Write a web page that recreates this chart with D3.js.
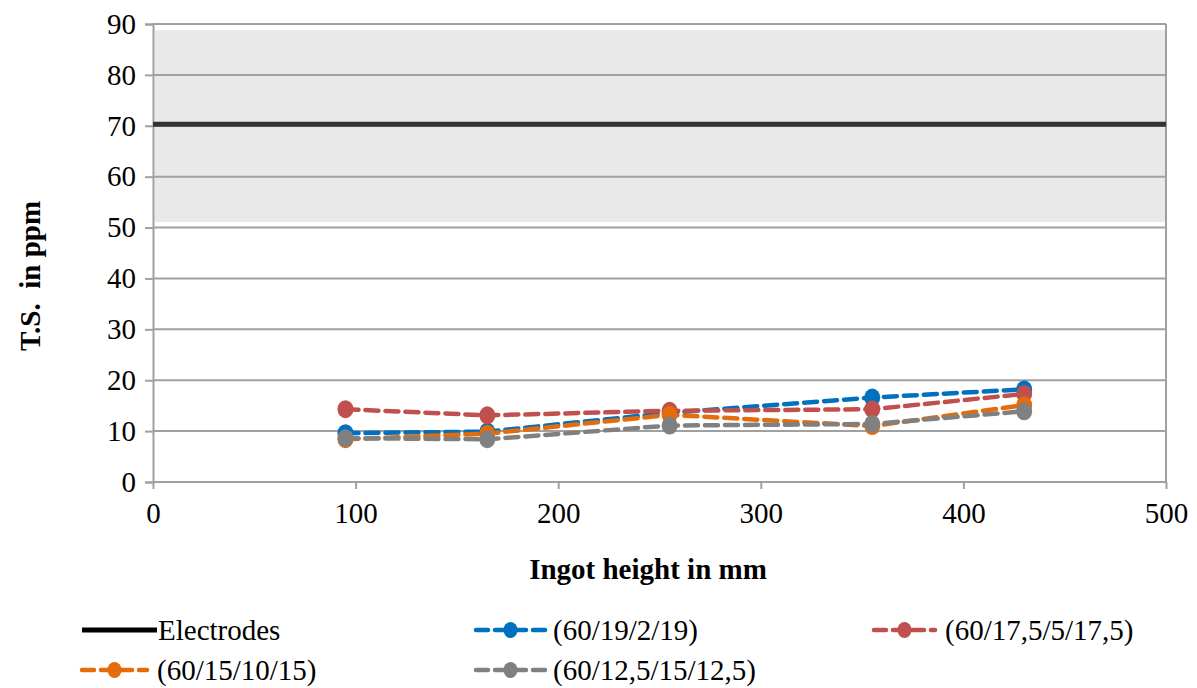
<!DOCTYPE html>
<html><head><meta charset="utf-8">
<script src="https://cdn.jsdelivr.net/npm/d3@7"></script>
<style>body{margin:0;background:#fff}svg{display:block}text{fill:#000}</style>
</head><body><svg id="c" width="1197" height="688"></svg>
<script>
const heights = [95, 165, 255, 355, 430];
const seriesNames = ["(60/19/2/19)", "(60/17,5/5/17,5)", "(60/15/10/15)", "(60/12,5/15/12,5)"];
const seriesColors = ["#0070c0", "#c0504d", "#e46c0a", "#808080"];
const blueVals = [9.6, 9.9, 13.6, 16.6, 18.2];
const redVals = [14.3, 13.1, 14.0, 14.3, 17.3];
const orangeVals = [8.4, 9.5, 13.2, 11.0, 15.1];
const grayVals = [8.6, 8.4, 11.1, 11.4, 13.9];
const electrodesValue = 70.3;
const bandRange = [51.1, 88.8];
const xTicks = [0, 100, 200, 300, 400, 500];
const yTicks = [0, 10, 20, 30, 40, 50, 60, 70, 80, 90];

const FONT = "'Times New Roman', 'Liberation Serif', Tinos, 'DejaVu Serif', serif";
const FS = 29;
const allVals = [blueVals, redVals, orangeVals, grayVals];
const svg = d3.select("#c");
const x = d3.scaleLinear().domain([0, 500]).range([153, 1166]);
const y = d3.scaleLinear().domain([0, 90]).range([482, 24]);

// band
svg.append("rect").attr("x", x(0) + 2).attr("width", x(500) - x(0) - 2)
  .attr("y", y(bandRange[1])).attr("height", y(bandRange[0]) - y(bandRange[1]))
  .attr("fill", "#e9e9e9");

// gridlines
svg.append("g").selectAll("line").data(yTicks).join("line")
  .attr("x1", x(0)).attr("x2", x(500)).attr("y1", d => y(d)).attr("y2", d => y(d))
  .attr("stroke", "#a0a0a0").attr("stroke-width", 2);
svg.append("line").attr("x1", x(500)).attr("x2", x(500)).attr("y1", y(90)).attr("y2", y(0))
  .attr("stroke", "#a0a0a0").attr("stroke-width", 2);

// axes
const yAxis = svg.append("g").attr("transform", `translate(${x(0)},0)`)
  .call(d3.axisLeft(y).tickValues(yTicks).tickSize(8).tickPadding(9));
const xAxis = svg.append("g").attr("transform", `translate(0,${y(0)})`)
  .call(d3.axisBottom(x).tickValues(xTicks).tickSize(7).tickPadding(13));
[yAxis, xAxis].forEach(a => {
  a.attr("font-family", null).attr("font-size", null);
  a.select(".domain").attr("stroke", "#a0a0a0").attr("stroke-width", 2);
  a.selectAll(".tick line").attr("stroke", "#a0a0a0").attr("stroke-width", 2);
  a.selectAll("text").attr("fill", "#000").style("font-family", FONT).style("font-size", FS + "px");
});
xAxis.select(".domain").remove();
xAxis.append("line").attr("x1", x(0)).attr("x2", x(500)).attr("stroke", "#a0a0a0").attr("stroke-width", 2);

// electrodes line
svg.append("line").attr("x1", x(0)).attr("x2", x(500)).attr("y1", y(electrodesValue)).attr("y2", y(electrodesValue))
  .attr("stroke", "#333").attr("stroke-width", 5);

// series
const line = d3.line().x((d, i) => x(heights[i])).y(d => y(d));
allVals.forEach((vals, k) => {
  svg.append("path").datum(vals).attr("d", line).attr("fill", "none")
    .attr("stroke", seriesColors[k]).attr("stroke-width", 4.5)
    .attr("stroke-dasharray", "13,7").attr("stroke-linecap", "round");
});
allVals.forEach((vals, k) => {
  svg.append("g").selectAll("ellipse").data(vals).join("ellipse")
    .attr("cx", (d, i) => x(heights[i])).attr("cy", d => y(d)).attr("rx", 8).attr("ry", 9)
    .attr("fill", seriesColors[k]);
});

// titles
svg.append("text").attr("x", 648).attr("y", 579).attr("text-anchor", "middle")
  .style("font-family", FONT).style("font-size", FS + "px").style("font-weight", "bold").text("Ingot height in mm");
svg.append("text").attr("transform", "translate(40,276) rotate(-90)").attr("text-anchor", "middle")
  .style("font-family", FONT).style("font-size", FS + "px").style("font-weight", "bold").style("white-space", "pre")
  .text("T.S.  in ppm");

// legend
const legend = [
  {name: "Electrodes", color: "#000", x0: 82, x1: 157, tx: 158, ty: 630, marker: false},
  {name: seriesNames[0], color: seriesColors[0], x0: 476, x1: 545, tx: 553, ty: 630, marker: true},
  {name: seriesNames[1], color: seriesColors[1], x0: 874, x1: 935, tx: 945, ty: 630, marker: true},
  {name: seriesNames[2], color: seriesColors[2], x0: 82, x1: 147, tx: 157, ty: 670, marker: true},
  {name: seriesNames[3], color: seriesColors[3], x0: 476, x1: 545, tx: 553, ty: 670, marker: true}
];
legend.forEach(l => {
  const g = svg.append("g");
  if (l.marker) {
    g.append("line").attr("x1", l.x0).attr("x2", l.x1).attr("y1", l.ty).attr("y2", l.ty)
      .attr("stroke", l.color).attr("stroke-width", 4.5).attr("stroke-dasharray", "12,7").attr("stroke-linecap", "round");
    g.append("ellipse").attr("cx", (l.x0 + l.x1) / 2).attr("cy", l.ty).attr("rx", 7).attr("ry", 8).attr("fill", l.color);
  } else {
    g.append("line").attr("x1", l.x0).attr("x2", l.x1).attr("y1", l.ty).attr("y2", l.ty)
      .attr("stroke", l.color).attr("stroke-width", 5);
  }
  g.append("text").attr("x", l.tx).attr("y", l.ty + 10).style("font-family", FONT).style("font-size", FS + "px").text(l.name);
});
</script></body></html>
